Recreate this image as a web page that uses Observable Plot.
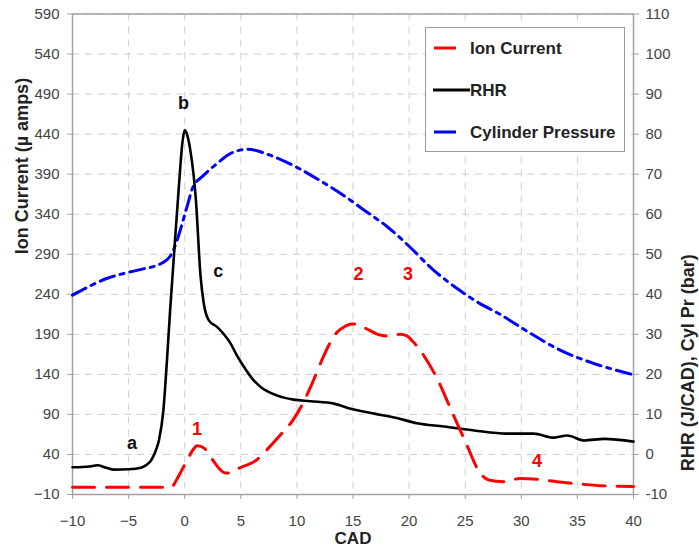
<!DOCTYPE html>
<html><head><meta charset="utf-8">
<script src="https://cdn.jsdelivr.net/npm/d3@7"></script>
<script src="https://cdn.jsdelivr.net/npm/@observablehq/plot@0.6"></script>
<style>
body{margin:0;background:#fff;font-family:"Liberation Sans",Arial,sans-serif;}
#wrap{position:relative;width:699px;height:554px;}
#legend{position:absolute;left:425px;top:27px;width:200px;height:125px;border:1px solid #9a9a9a;background:#fff;box-sizing:border-box;}
.item{position:absolute;left:0;height:20px;font-weight:bold;font-size:17px;color:#222;}
.item svg{position:absolute;left:0;top:0;}
.item span{position:absolute;left:44px;top:0;line-height:20px;white-space:nowrap;}
</style></head><body><div id="wrap"></div>
<script>
// X ticks (CAD) and left-axis ticks (Ion Current)
const xTicks = [-10, -5, 0, 5, 10, 15, 20, 25, 30, 35, 40];
const leftTicks = [-10, 40, 90, 140, 190, 240, 290, 340, 390, 440, 490, 540, 590];

// Ion Current (µ amps), left axis
const ionCAD = [-10, -5, -1.2, -0.7, -0.2, 0.2, 0.7, 1.1, 1.6, 2.0, 2.6, 3.1, 3.6, 4.1, 4.7, 5.4, 6.3, 7.4, 8.5, 9.6, 10.5, 11.4, 12.2, 12.9, 13.6, 14.3, 14.9, 15.5, 16.2, 17.2, 18.0, 19.2, 19.8, 20.4, 21.0, 21.6, 22.6, 23.7, 24.4, 25.2, 26.1, 27.1, 28.4, 29.9, 31.4, 33.2, 35.3, 37.1, 40];
const ionVal = [-1, -1, -1, 9, 22, 32, 45, 51, 49, 44, 31, 22, 17, 17, 22, 26, 32, 47, 64, 82, 103, 130, 157, 178, 193, 200, 203, 202, 197, 190, 188, 190, 188, 180, 170, 157, 132, 97, 75, 50, 22, 8, 6, 10, 9, 6, 3, 1, 0];

// RHR (J/CAD), right axis
const rhrCAD = [-10, -8.5, -7.8, -7, -6.3, -5, -3.9, -3.4, -3.0, -2.6, -2.3, -1.9, -1.6, -1.3, -1.0, -0.5, -0.2, 0.0, 0.25, 0.5, 1.0, 1.4, 1.7, 2.15, 2.9, 3.5, 4.1, 4.6, 5.3, 6.0, 6.8, 8.2, 9.7, 11.2, 13.3, 14.8, 16.9, 18.9, 20.7, 23.1, 25.8, 28.7, 31.1, 32.9, 34.1, 35.6, 37.4, 40];
const rhrVal = [-3.2, -3.0, -2.7, -3.3, -3.8, -3.7, -3.3, -2.6, -1.5, 0.8, 3.5, 11, 22.7, 36, 48, 67.7, 78, 81, 79.5, 76, 63.5, 45, 37.7, 33.5, 31.8, 30, 27.7, 25, 21.8, 19, 16.8, 14.75, 13.7, 13.3, 12.7, 11.4, 10.2, 9.1, 7.8, 7, 6, 5.2, 5.2, 4.2, 4.75, 3.5, 3.9, 3.2];

// Cylinder Pressure (bar), right axis
const cpCAD = [-10, -8.5, -6.9, -5, -3.6, -2.5, -1.9, -1.3, -0.8, -0.4, 0.2, 0.7, 1.7, 2.9, 4.1, 5.6, 7.6, 10, 12, 14, 16, 18, 20, 22, 24.6, 26, 28.1, 30.5, 33.5, 36.5, 40];
const cpVal = [39.8, 42, 44, 45.5, 46.4, 47.2, 48, 49.5, 52.5, 56, 61.8, 66.5, 69.75, 72.7, 75.2, 76.2, 74.75, 71.7, 68.5, 65, 61, 57, 52, 46.5, 40.8, 38.2, 35, 30.8, 26, 22.7, 19.9];

// Annotations (letters/numbers on curves), in CAD and left-axis units
const annoText = ["a", "b", "c", "1", "2", "3", "4"];
const annoCAD = [-4.7, -0.1, 3.0, 1.1, 15.5, 19.9, 31.4];
const annoVal = [54, 479, 269, 72, 265, 265, 32];
const annoColor = ["#111", "#111", "#111", "#ff0000", "#ff0000", "#ff0000", "#ff0000"];

// Right axis (RHR, Cyl Pr) to left axis (Ion Current) scale link
const rightToLeft = v => 5 * v + 40;
const leftToRight = v => (v + 10) / 5 - 10;

const ion = ionCAD.map((c, i) => ({cad: c, v: ionVal[i]}));
const rhr = rhrCAD.map((c, i) => ({cad: c, v: rightToLeft(rhrVal[i])}));
const cp = cpCAD.map((c, i) => ({cad: c, v: rightToLeft(cpVal[i])}));
const anno = annoText.map((t, i) => ({t, cad: annoCAD[i], v: annoVal[i], c: annoColor[i]}));

const grid = {stroke: "#cfcfcf", strokeOpacity: 1, strokeDasharray: "7,6", strokeWidth: 1};

const plot = Plot.plot({
  width: 699, height: 554,
  marginLeft: 72, marginRight: 66, marginTop: 13.5, marginBottom: 60,
  style: {fontFamily: "Liberation Sans, Arial, sans-serif", fontSize: "15px", color: "#444", background: "#fff", overflow: "visible"},
  x: {domain: [-10, 40]},
  y: {domain: [-10, 590]},
  marks: [
    Plot.gridX(xTicks, grid),
    Plot.gridY(leftTicks, grid),
    Plot.frame({stroke: "#a0a0a0", strokeWidth: 1.5}),
    Plot.axisX(xTicks, {tickSize: 5, tickPadding: 15.5, label: null, stroke: "#a0a0a0", fill: "#444"}),
    Plot.axisY(leftTicks, {anchor: "left", tickSize: 5, tickPadding: 8, label: null, stroke: "#a0a0a0", fill: "#444"}),
    Plot.axisY(leftTicks, {anchor: "right", tickSize: 5, tickPadding: 7, label: null, tickFormat: d => leftToRight(d), stroke: "#a0a0a0", fill: "#444"}),
    Plot.line(cp, {x: "cad", y: "v", stroke: "#0000ff", strokeWidth: 3, strokeDasharray: "15,6,4,6", curve: "monotone-x"}),
    Plot.line(rhr, {x: "cad", y: "v", stroke: "#000", strokeWidth: 2.6, curve: "monotone-x"}),
    Plot.line(ion, {x: "cad", y: "v", stroke: "#ff0000", strokeWidth: 3, strokeDasharray: "22,12", curve: "monotone-x"}),
    Plot.text(anno, {x: "cad", y: "v", text: "t", fill: "c", fontSize: 18, fontWeight: "bold"}),
    Plot.text(["Ion Current (µ amps)"], {text: d => d, frameAnchor: "left", dx: -50, rotate: -90, fontSize: 18, fontWeight: "bold", fill: "#222"}),
    Plot.text(["RHR (J/CAD), Cyl Pr (bar)"], {text: d => d, frameAnchor: "right", dx: 55, rotate: -90, fontSize: 18, fontWeight: "bold", fill: "#222"}),
    Plot.text(["CAD"], {text: d => d, frameAnchor: "bottom", dy: 49, fontSize: 17, fontWeight: "bold", fill: "#222"})
  ]
});

const wrap = document.getElementById("wrap");
wrap.appendChild(plot);

// Legend
const legendItems = [
  {label: "Ion Current", color: "#ff0000", dash: "22,12", x1: 8, x2: 30, top: 11},
  {label: "RHR", color: "#000", dash: null, x1: 7, x2: 44, top: 53},
  {label: "Cylinder Pressure", color: "#0000ff", dash: "22,12", x1: 8, x2: 30, top: 95}
];
const legend = document.createElement("div");
legend.id = "legend";
for (const it of legendItems) {
  const d = document.createElement("div");
  d.className = "item";
  d.style.top = it.top + "px";
  d.style.width = "198px";
  d.innerHTML = `<svg width="46" height="20"><line x1="${it.x1}" x2="${it.x2}" y1="9" y2="9" stroke="${it.color}" stroke-width="3" ${it.dash ? `stroke-dasharray="${it.dash}"` : ""}/></svg><span>${it.label}</span>`;
  legend.appendChild(d);
}
wrap.appendChild(legend);
</script>
</body></html>
